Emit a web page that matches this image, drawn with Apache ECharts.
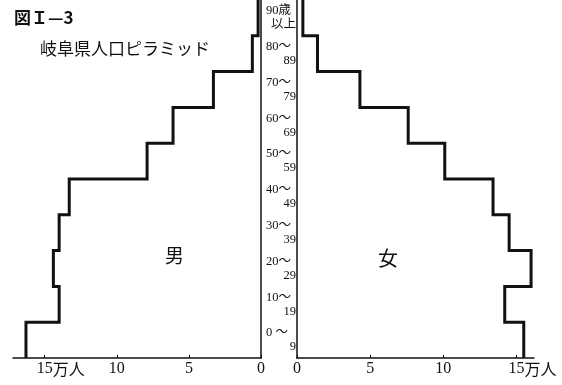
<!DOCTYPE html>
<html><head><meta charset="utf-8">
<script src="https://cdn.jsdelivr.net/npm/echarts@6/dist/echarts.min.js"></script>
<style>html,body{margin:0;padding:0;background:#fff}#c{width:562px;height:385px}</style>
</head><body><div id="c"></div>
<script>
// Age bands (bottom to top)
const ageLineTop = ['0 ～','10～','20～','30～','40～','50～','60～','70～','80～','90歳'];
const ageLineBottom = ['9','19','29','39','49','59','69','79','89','以上'];
const ageStart = [0,10,20,30,40,50,60,70,80,90];
const ageEnd = [10,20,30,40,50,60,70,80,90,100];
// Population (万人)
const male = [16.3,14.0,14.4,14.0,13.3,7.9,6.1,3.3,0.6,0.2];
const female = [15.5,14.2,16.0,14.5,13.4,10.1,7.6,4.3,1.4,0.4];
const tickValues = [0,5,10,15];
const unitText = '万人';
const figTitle = '図Ｉ—3';
const chartTitle = '岐阜県人口ピラミッド';
const maleText = '男';
const femaleText = '女';

const serif = '"Liberation Serif","DejaVu Serif","Noto Sans CJK JP",serif';
const cjk = '"Noto Sans CJK JP",sans-serif';

function steps(vals){
  const pts = [];
  vals.forEach((v,i)=>{ pts.push([v, ageStart[i]]); pts.push([v, ageEnd[i]]); });
  return pts;
}
const categories = ageLineTop.map((t,i)=>t+'\n'+ageLineBottom[i]);

function xLabel(v){
  if (v === 15) return '{h|'+unitText+'}{n|15}{u|'+unitText+'}';
  return '{n|'+v+'}';
}
const xRich = {
  n:{fontFamily:serif,fontSize:16,color:'#111'},
  u:{fontFamily:cjk,fontSize:16,color:'#111'},
  h:{fontFamily:cjk,fontSize:16,color:'rgba(0,0,0,0)'}
};
const axisLineStyle = {color:'#111',width:1.5};

const chart = echarts.init(document.getElementById('c'),null,{renderer:'canvas'});
chart.setOption({
  animation:false,
  backgroundColor:'#fff',
  title:[
    {text:figTitle,left:9,top:4,textStyle:{fontFamily:cjk,fontSize:17,fontWeight:'bold',color:'#111'}},
    {text:chartTitle,left:35,top:35,textStyle:{fontFamily:cjk,fontSize:17,fontWeight:'normal',color:'#111'}}
  ],
  grid:[
    {left:13,right:301,top:-2,bottom:27},
    {left:297,right:28,top:-2,bottom:27}
  ],
  xAxis:[
    {gridIndex:0,type:'value',inverse:true,min:0,max:17.2,
     axisLine:{show:true,lineStyle:axisLineStyle},
     axisTick:{show:true,inside:true,length:3,lineStyle:{color:'#111'},customValues:tickValues},
     axisLabel:{show:true,margin:3,formatter:xLabel,rich:xRich,customValues:tickValues},
     splitLine:{show:false}},
    {gridIndex:1,type:'value',min:0,max:16.2,
     axisLine:{show:true,lineStyle:axisLineStyle},
     axisTick:{show:true,inside:true,length:3,lineStyle:{color:'#111'},customValues:tickValues},
     axisLabel:{show:true,margin:3,formatter:xLabel,rich:xRich,customValues:tickValues},
     splitLine:{show:false}}
  ],
  yAxis:[
    {gridIndex:0,type:'value',min:0,max:100,position:'right',
     axisLine:{show:true,onZero:false,lineStyle:axisLineStyle},
     axisTick:{show:false},axisLabel:{show:false},splitLine:{show:false}},
    {gridIndex:0,type:'category',data:categories,position:'right',
     axisLine:{show:false},axisTick:{show:false},splitLine:{show:false},
     axisLabel:{show:true,margin:5,width:30,
       formatter:(v,i)=>'{a|'+ageLineTop[i]+'}\n{b|'+ageLineBottom[i]+'}',
       rich:{
         a:{align:'left',fontFamily:serif,fontSize:12.5,lineHeight:14,color:'#111'},
         b:{align:'right',fontFamily:serif,fontSize:12.5,lineHeight:14,color:'#111'}
       }}},
    {gridIndex:1,type:'value',min:0,max:100,position:'left',
     axisLine:{show:true,onZero:false,lineStyle:axisLineStyle},
     axisTick:{show:false},axisLabel:{show:false},splitLine:{show:false}}
  ],
  series:[
    {type:'line',xAxisIndex:0,yAxisIndex:0,data:steps(male),symbol:'none',clip:false,
     lineStyle:{color:'#111',width:3,join:'miter'}},
    {type:'line',xAxisIndex:1,yAxisIndex:2,data:steps(female),symbol:'none',clip:false,
     lineStyle:{color:'#111',width:3,join:'miter'}}
  ],
  graphic:[
    {type:'text',left:165,top:246,style:{text:maleText,font:'19px '+cjk,fill:'#111'}},
    {type:'text',left:378,top:248,style:{text:femaleText,font:'20px '+cjk,fill:'#111'}}
  ]
});
</script>
</body></html>
